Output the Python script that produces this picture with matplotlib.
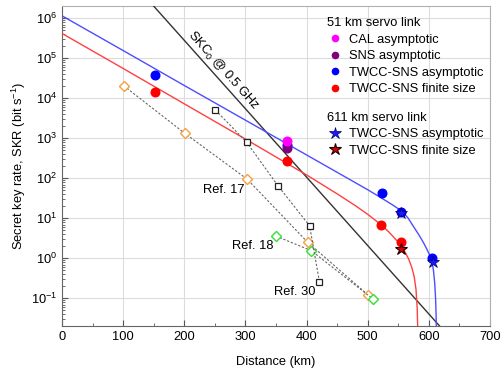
import numpy as np
import matplotlib.pyplot as plt
from matplotlib.lines import Line2D

plt.rcParams['font.family'] = ['Liberation Sans', 'DejaVu Sans']
plt.rcParams['mathtext.fontset'] = 'custom'
plt.rcParams['mathtext.rm'] = 'Liberation Sans'
plt.rcParams['mathtext.it'] = 'Liberation Sans:italic'
plt.rcParams['mathtext.bf'] = 'Liberation Sans:bold'
plt.rcParams['font.size'] = 9.3

# curves (distance km, SKR)
blue_curve_x = [0, 100, 200, 300, 400, 500, 520, 540, 556, 566, 575, 584, 591, 597, 602,
                605, 607.5, 609.5, 611, 611.8, 612.2]
blue_curve_y = [1.16e6, 1.57e5, 2.1e4, 2.85e3, 385, 52, 34, 22, 15.1, 10.2, 6.2, 3.8, 2.5,
                1.66, 1.15, 0.87, 0.5, 0.25, 0.1, 0.04, 0.02]
red_curve_x = [0, 100, 200, 300, 400, 450, 480, 500, 520, 535, 550, 560, 567, 572, 576,
               579, 581, 581.6, 582]
red_curve_y = [4.2e5, 5.6e4, 7.3e3, 960, 122, 41, 20.7, 12.6, 7.3, 4.5, 2.54, 1.54, 0.96,
               0.60, 0.35, 0.166, 0.054, 0.022, 0.01]
skc_x = [140, 620]
skc_y = [3.0e6, 0.0185]

# 51 km servo link points
cal_x, cal_y = [368], [870]
sns_x, sns_y = [368], [560]
twcc_asym_x = [152, 368, 523, 555, 605]
twcc_asym_y = [3.8e4, 700, 42, 14.6, 1.0]
twcc_fin_x = [152, 368, 522, 554]
twcc_fin_y = [1.46e4, 270, 6.8, 2.6]

# 611 km servo link points
star_asym_x, star_asym_y = [555, 606], [14, 0.82]
star_fin_x, star_fin_y = [554], [1.75]

# previous experiments
ref_or_x = [101, 201, 303, 402, 501]
ref_or_y = [2.06e4, 1.33e3, 95, 2.5, 0.12]
ref_gr_x = [350, 408, 509]
ref_gr_y = [3.6, 1.55, 0.095]
ref_sq_x = [251, 302, 354, 405, 421]
ref_sq_y = [5.1e3, 800, 63, 6.5, 0.26]

fig = plt.figure(figsize=(5.03, 3.69), dpi=100)
ax = fig.add_axes([62/503, 1-325.7/369, 428/503, 319.7/369])
ax.set_yscale('log')

ax.plot(skc_x, skc_y, color='#333333', lw=1.0, zorder=3)
ax.plot(blue_curve_x, blue_curve_y, color='#4d4dff', lw=1.0, zorder=3)
ax.plot(red_curve_x, red_curve_y, color='#ff4040', lw=1.0, zorder=3)

dash = (0, (2, 1.6))
ax.plot(ref_or_x, ref_or_y, color='#666666', lw=0.8, ls=dash, marker='D', ms=4.8,
        mfc='white', mec='#f5a040', mew=1.0, zorder=4)
ax.plot(ref_gr_x, ref_gr_y, color='#666666', lw=0.8, ls=dash, marker='D', ms=4.8,
        mfc='white', mec='#33e033', mew=1.0, zorder=4)
ax.plot(ref_sq_x, ref_sq_y, color='#666666', lw=0.8, ls=dash, marker='s', ms=5,
        mfc='white', mec='#222222', mew=0.9, zorder=4)

ax.plot(twcc_fin_x, twcc_fin_y, 'o', color='#ff0000', ms=6.2, zorder=5)
ax.plot(twcc_asym_x, twcc_asym_y, 'o', color='#0000ff', ms=6.2, zorder=5)
ax.plot(sns_x, sns_y, 'o', color='#800080', ms=6.2, zorder=6)
ax.plot(cal_x, cal_y, 'o', color='#ff00ff', ms=6.2, zorder=7)
ax.plot(star_asym_x, star_asym_y, '*', color='#1a1aff', mec='#000066', mew=0.5, ms=9, zorder=8)
ax.plot(star_fin_x, star_fin_y, '*', color='#dd0000', mec='#220000', mew=0.8, ms=9, zorder=8)

ax.text(264, 4.8e4, 'SKC$_0$ @ 0.5 GHz', rotation=-48.5, ha='center', va='center',
        rotation_mode='anchor', fontsize=9.3)
ax.text(298, 51, 'Ref. 17', ha='right', va='center')
ax.text(345.6, 2.05, 'Ref. 18', ha='right', va='center')
ax.text(415.4, 0.146, 'Ref. 30', ha='right', va='center')

ax.set_xlim(0, 700)
ax.set_ylim(0.0207, 2.04e6)
ax.set_xticks(np.arange(0, 701, 100))
ax.set_xticks(np.arange(0, 701, 50), minor=True)
ax.grid(True, which='major', color='#dcdcdc', lw=0.8)
ax.set_axisbelow(True)
ax.tick_params(which='both', direction='in', colors='#555555', labelcolor='black')
ax.tick_params(which='major', length=4)
ax.tick_params(which='minor', length=2)
for s in ['left', 'bottom']:
    ax.spines[s].set_color('#666666')
for s in ['top', 'right']:
    ax.spines[s].set_color('#b0b0b0')

ax.set_xlabel('Distance (km)', labelpad=10)
ax.set_ylabel('Secret key rate, SKR (bit s$^{-1}$)', labelpad=2)

h1 = [Line2D([], [], ls='none', marker='o', ms=4.5, color=c)
      for c in ['#ff00ff', '#800080', '#0000ff', '#ff0000']]
l1 = ['CAL asymptotic', 'SNS asymptotic', 'TWCC-SNS asymptotic', 'TWCC-SNS finite size']
leg1 = ax.legend(h1, l1, title='51 km servo link', loc='upper left',
                 bbox_to_anchor=(0.62, 0.965), frameon=False, borderpad=0, borderaxespad=0,
                 handlelength=1.2, handletextpad=0.5, labelspacing=0.35,
                 alignment='left', title_fontsize=9.3, fontsize=9.3)
ax.add_artist(leg1)
h2 = [Line2D([], [], ls='none', marker='*', ms=9, color='#1a1aff', mec='#000066', mew=0.5),
      Line2D([], [], ls='none', marker='*', ms=9, color='#dd0000', mec='#220000', mew=0.8)]
l2 = ['TWCC-SNS asymptotic', 'TWCC-SNS finite size']
ax.legend(h2, l2, title='611 km servo link', loc='upper left',
          bbox_to_anchor=(0.62, 0.67), frameon=False, borderpad=0, borderaxespad=0,
          handlelength=1.2, handletextpad=0.5, labelspacing=0.35,
          alignment='left', title_fontsize=9.3, fontsize=9.3)

plt.savefig('out.png', dpi=100)
